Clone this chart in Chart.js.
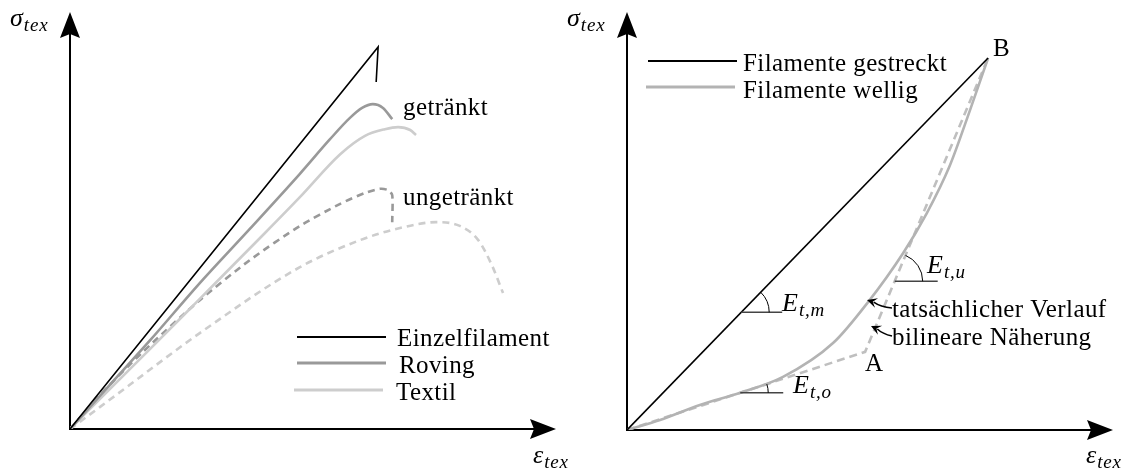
<!DOCTYPE html>
<html>
<head>
<meta charset="utf-8">
<script src="https://cdn.jsdelivr.net/npm/chart.js@4/dist/chart.umd.min.js"></script>
<style>
body { margin: 0; background: #fff; }
canvas { position: absolute; left: 0; top: 0; }
</style>
</head>
<body>
<canvas id="leftChart" width="1130" height="469"></canvas>
<canvas id="rightChart" width="1130" height="469"></canvas>
<script>
// left panel (x: strain, y: stress, schematic units 0..100)
const einzelfilament = [[0, 0], [63.4, 91.6], [63.0, 83.2]];
const rovingGetraenkt = [[0, 0], [8.2, 10.6], [16.5, 21.3], [26.7, 35.0], [37.0, 48.0], [47.3, 61.2], [53.5, 69.5], [57.6, 74.6], [60.1, 77.0], [62.3, 77.9], [64.4, 77.0], [66.3, 74.3]];
const textilGetraenkt = [[0, 0], [8.2, 9.6], [16.5, 19.2], [26.7, 31.2], [39.1, 45.8], [47.3, 55.6], [55.6, 65.9], [60.7, 70.3], [64.8, 71.9], [67.5, 72.4], [70.0, 71.7], [71.2, 70.5]];
const rovingUngetraenkt = [[0, 0], [6.2, 8.2], [15.0, 18.5], [26.7, 30.9], [37.0, 40.5], [47.3, 48.7], [55.6, 54.0], [60.7, 56.6], [63.8, 57.6], [65.4, 57.3], [66.3, 56.1], [66.3, 49.6]];
const textilUngetraenkt = [[0, 0], [6.2, 5.3], [12.3, 10.6], [26.7, 23.0], [47.3, 38.8], [59.7, 45.3], [67.9, 48.2], [75.3, 49.6], [80.2, 48.7], [84.0, 45.3], [86.8, 39.3], [89.1, 32.6]];

// right panel
const gestreckt = [[0, 0], [74.3, 89.0]];
const wellig = [[0, 0], [6.8, 2.4], [15.0, 6.0], [23.3, 8.9], [32.1, 12.7], [42.4, 20.8], [49.6, 30.6], [56.8, 42.3], [61.7, 51.9], [66.3, 62.9], [70.6, 76.6], [74.3, 89.0]];
const bilinear = [[0, 0], [49.0, 18.7], [74.3, 89.0]];

const leftLegend = ["Einzelfilament", "Roving", "Textil"];
const rightLegend = ["Filamente gestreckt", "Filamente wellig"];

const serif = '"Liberation Serif", "DejaVu Serif", serif';
const toPoints = (arr) => arr.map(([x, y]) => ({ x, y }));

function text(ctx, s, x, y, size) {
    ctx.font = `${size || 25}px ${serif}`;
    ctx.fillStyle = "#000";
    ctx.letterSpacing = "0.4px";
    ctx.fillText(s, x, y);
    ctx.letterSpacing = "0px";
}

function mathLabel(ctx, main, sub, x, y) {
    ctx.fillStyle = "#000";
    ctx.font = `italic 26px ${serif}`;
    ctx.fillText(main, x, y);
    const w = ctx.measureText(main).width;
    ctx.font = `italic 19px ${serif}`;
    ctx.letterSpacing = "0.8px";
    ctx.fillText(sub, x + w + 1, y + 5);
    ctx.letterSpacing = "0px";
}

function arrowHead(ctx, tipX, tipY, angle, len, half) {
    ctx.save();
    ctx.translate(tipX, tipY);
    ctx.rotate(angle);
    ctx.beginPath();
    ctx.moveTo(0, 0);
    ctx.lineTo(-len, -half);
    ctx.lineTo(-len + 4, 0);
    ctx.lineTo(-len, half);
    ctx.closePath();
    ctx.fill();
    ctx.restore();
}

function drawAxes(chart) {
    const { ctx, scales: { x, y } } = chart;
    const x0 = x.getPixelForValue(0), y0 = y.getPixelForValue(0);
    const xEnd = x.getPixelForValue(x.max), yEnd = y.getPixelForValue(y.max);
    ctx.save();
    ctx.strokeStyle = "#000";
    ctx.fillStyle = "#000";
    ctx.lineWidth = 2;
    ctx.beginPath();
    ctx.moveTo(x0, yEnd + 20);
    ctx.lineTo(x0, y0);
    ctx.lineTo(xEnd - 20, y0);
    ctx.stroke();
    arrowHead(ctx, x0, yEnd, -Math.PI / 2, 26, 10);
    arrowHead(ctx, xEnd, y0, 0, 26, 10);
    ctx.restore();
}

const axesPlugin = {
    id: "arrowAxes",
    beforeDatasetsDraw(chart) {
        drawAxes(chart);
    },
};

function legendLine(ctx, x1, x2, y, color, width) {
    ctx.strokeStyle = color;
    ctx.lineWidth = width;
    ctx.beginPath();
    ctx.moveTo(x1, y);
    ctx.lineTo(x2, y);
    ctx.stroke();
}

const leftDecor = {
    id: "leftDecor",
    afterDraw(chart) {
        const ctx = chart.ctx;
        const ds = chart.data.datasets;
        ctx.save();
        mathLabel(ctx, "σ", "tex", 10, 26);
        mathLabel(ctx, "ε", "tex", 533, 463);
        text(ctx, "getränkt", 403, 115);
        text(ctx, "ungetränkt", 403, 205);
        legendLine(ctx, 297, 386, 337, ds[0].borderColor, 2);
        legendLine(ctx, 297, 386, 363, ds[1].borderColor, 3);
        legendLine(ctx, 294, 383, 390, ds[2].borderColor, 3);
        text(ctx, leftLegend[0], 397, 346);
        text(ctx, leftLegend[1], 399, 373);
        text(ctx, leftLegend[2], 396, 400);
        ctx.restore();
    },
};

function angleMark(ctx, cx, cy, angle, len, r) {
    ctx.strokeStyle = "#444";
    ctx.lineWidth = 1.5;
    ctx.beginPath();
    ctx.moveTo(cx, cy);
    ctx.lineTo(cx + len, cy);
    ctx.stroke();
    ctx.strokeStyle = "#000";
    ctx.lineWidth = 1;
    ctx.beginPath();
    ctx.arc(cx, cy, r, 0, -angle, true);
    ctx.stroke();
}

function pointerArrow(ctx, fx, fy, tx, ty) {
    const ang = Math.atan2(ty - fy, tx - fx);
    ctx.strokeStyle = "#000";
    ctx.fillStyle = "#000";
    ctx.lineWidth = 1.5;
    ctx.beginPath();
    ctx.moveTo(fx, fy);
    ctx.quadraticCurveTo((fx + tx) / 2 + 1, (fy + ty) / 2 + 3, tx - 7 * Math.cos(ang), ty - 7 * Math.sin(ang));
    ctx.stroke();
    arrowHead(ctx, tx, ty, ang, 10, 5);
}

const rightDecor = {
    id: "rightDecor",
    afterDraw(chart) {
        const { ctx, scales: { x, y } } = chart;
        const P = (a) => [x.getPixelForValue(a[0]), y.getPixelForValue(a[1])];
        const slopeAngle = (a, b) => {
            const p = P(a), q = P(b);
            return Math.atan2(p[1] - q[1], q[0] - p[0]);
        };
        ctx.save();
        mathLabel(ctx, "σ", "tex", 567, 26);
        mathLabel(ctx, "ε", "tex", 1086, 463);

        legendLine(ctx, 648, 737, 61, "#000", 2);
        legendLine(ctx, 646, 735, 87, "#b3b3b3", 3);
        text(ctx, rightLegend[0], 743, 71);
        text(ctx, rightLegend[1], 743, 98);

        text(ctx, "B", 993, 56);
        text(ctx, "A", 865, 371);

        // E_t,m on the straight line
        const g = gestreckt[1];
        const cm = P([23.5, 23.5 * g[1] / g[0]]);
        angleMark(ctx, cm[0], cm[1], slopeAngle(gestreckt[0], g), 41, 28);
        mathLabel(ctx, "E", "t,m", 782, 311);

        // E_t,o on first branch of bilinear
        const a = bilinear[1], b = bilinear[2];
        const co = P([23.3, 23.3 * a[1] / a[0]]);
        angleMark(ctx, co[0], co[1], slopeAngle(bilinear[0], a), 43, 28);
        mathLabel(ctx, "E", "t,o", 793, 393);

        // E_t,u on second branch
        const yu = 35.6;
        const cu = P([a[0] + (yu - a[1]) * (b[0] - a[0]) / (b[1] - a[1]), yu]);
        angleMark(ctx, cu[0], cu[1], slopeAngle(a, b), 43, 28);
        mathLabel(ctx, "E", "t,u", 927, 273);

        pointerArrow(ctx, 892, 308, 867, 300);
        pointerArrow(ctx, 892, 336, 871, 326);
        text(ctx, "tatsächlicher Verlauf", 892, 317);
        text(ctx, "bilineare Näherung", 892, 345);
        ctx.restore();
    },
};

function line(data, color, width, dash, tension) {
    const ds = {
        data: toPoints(data),
        showLine: true,
        borderColor: color,
        borderWidth: width,
        borderDash: dash || [],
        tension: 0,
        pointRadius: 0,
        fill: false,
    };
    if (tension === "monotone") {
        ds.cubicInterpolationMode = "monotone";
        ds.tension = 0.4;
    } else if (tension) {
        ds.tension = tension;
    }
    return ds;
}

const hiddenScales = {
    x: { type: "linear", min: 0, max: 100, display: false },
    y: { type: "linear", min: 0, max: 100, display: false },
};

const baseOptions = (padding) => ({
    responsive: false,
    animation: false,
    events: [],
    layout: { padding },
    scales: hiddenScales,
    plugins: { legend: { display: false }, tooltip: { enabled: false } },
});

new Chart(document.getElementById("leftChart").getContext("2d"), {
    type: "scatter",
    data: {
        datasets: [
            line(einzelfilament, "#000", 1.6),
            line(rovingGetraenkt, "#999", 2.6, null, "monotone"),
            line(textilGetraenkt, "#cdcdcd", 2.6, null, "monotone"),
            line(rovingUngetraenkt, "#999", 2.6, [7, 5], 0.25),
            line(textilUngetraenkt, "#cdcdcd", 2.6, [7, 5], "monotone"),
        ],
    },
    options: baseOptions({ left: 70, right: 574, top: 12, bottom: 40 }),
    plugins: [axesPlugin, leftDecor],
});

new Chart(document.getElementById("rightChart").getContext("2d"), {
    type: "scatter",
    data: {
        datasets: [
            line(gestreckt, "#000", 1.6),
            line(wellig, "#b3b3b3", 2.6, null, "monotone"),
            line(bilinear, "#bfbfbf", 2.6, [8, 5]),
        ],
    },
    options: baseOptions({ left: 627, right: 17, top: 12, bottom: 39 }),
    plugins: [axesPlugin, rightDecor],
});
</script>
</body>
</html>
